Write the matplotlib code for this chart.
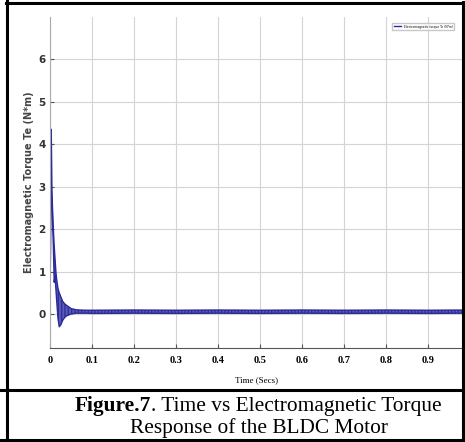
import matplotlib
matplotlib.use('Agg')
import matplotlib.pyplot as plt
from matplotlib.lines import Line2D

# 读图得到的包络数据 (时间, 上包络, 下包络)
t_env = [0.0, 0.0015, 0.003, 0.004, 0.006, 0.008, 0.010, 0.012, 0.014, 0.016,
         0.019, 0.022, 0.026, 0.030, 0.035, 0.040, 0.050, 0.062, 0.083, 0.100,
         0.200, 0.300, 0.400, 0.500, 0.600, 0.700, 0.800, 0.900, 0.985]
te_upper = [0.0, 2.2, 4.35, 3.0, 2.5, 2.0, 1.6, 1.3, 1.0, 0.8,
            0.6, 0.5, 0.4, 0.3, 0.24, 0.2, 0.13, 0.1, 0.09, 0.09,
            0.095, 0.09, 0.095, 0.09, 0.095, 0.09, 0.095, 0.09, 0.095]
te_lower = [0.0, 2.2, 4.35, 2.9, 2.2, 1.6, 0.75, 0.9, 0.6, 0.3,
            -0.1, -0.3, -0.25, -0.15, -0.08, -0.04, 0.0, 0.02, 0.02, 0.015,
            0.02, 0.015, 0.02, 0.015, 0.02, 0.015, 0.02, 0.015, 0.02]

x_ticks = [0, 0.1, 0.2, 0.3, 0.4, 0.5, 0.6, 0.7, 0.8, 0.9]
x_labels = ['0', '0.1', '0.2', '0.3', '0.4', '0.5', '0.6', '0.7', '0.8', '0.9']
y_ticks = [0, 1, 2, 3, 4, 5, 6]

W, H = 465, 442
fig = plt.figure(figsize=(W / 100, H / 100), dpi=100)
ax = fig.add_axes([50 / W, 1 - 348 / H, 413 / W, (348 - 17) / H])

blue = '#2a2a9a'
ax.fill_between(t_env, te_lower, te_upper, facecolor='#4a4ab0', edgecolor=blue,
                hatch='|||||', lw=0, alpha=0.9)
ax.plot(t_env, te_upper, color=blue, lw=1.0, label='Electromagnetic torque Te (N*m)')
ax.plot(t_env, te_lower, color=blue, lw=1.0)

ax.set_xlim(0, 0.983)
ax.set_ylim(-0.8, 7.0)
ax.set_xticks(x_ticks)
ax.set_xticklabels(x_labels, fontfamily='Liberation Serif', fontweight='bold', fontsize=7.5)
ax.set_yticks(y_ticks)
ax.set_yticklabels([str(v) for v in y_ticks], fontweight='bold', fontsize=7.5, color='#333333')
ax.tick_params(direction='in', length=3, color='#555555')
ax.tick_params(axis='x', pad=6)
ax.tick_params(axis='y', pad=3)
ax.grid(True, color='#d4d4d4', lw=0.8)
ax.set_axisbelow(True)
for s in ['top', 'right']:
    ax.spines[s].set_visible(False)
ax.spines['bottom'].set_color('#555555')
ax.spines['left'].set_color('#aaaaaa')

ax.set_xlabel('Time (Secs)', fontfamily='Liberation Serif', fontsize=6.5, labelpad=8)
ax.set_ylabel('Electromagnetic Torque Te (N*m)', fontweight='bold', fontsize=7,
              color='#444444', labelpad=3)
ax.legend(loc='upper left', bbox_to_anchor=(342 / 413, 1 - 6 / 331), fontsize=2.2,
          handlelength=2.5, frameon=True, fancybox=False, edgecolor='#bbbbbb',
          borderpad=0.5, borderaxespad=0)

# 表格边框
def hline(y, x0=0, x1=W, lw=2.2):
    fig.add_artist(Line2D([x0 / W, x1 / W], [1 - y / H, 1 - y / H], color='black', lw=lw))

def vline(x, y0=0, y1=H, lw=2.2):
    fig.add_artist(Line2D([x / W, x / W], [1 - y0 / H, 1 - y1 / H], color='black', lw=lw))

hline(3, 6, 464)
hline(390)
hline(440)
vline(7)
vline(463, 2, 441)

t1 = fig.text(75 / W, 1 - 406 / H, 'Figure.7', fontfamily='Liberation Serif',
              fontweight='bold', fontsize=15.4, va='center', ha='left')
fig.canvas.draw()
bb = t1.get_window_extent()
fig.text(bb.x1 / W, 1 - 406 / H, '. Time vs Electromagnetic Torque',
         fontfamily='Liberation Serif', fontsize=15.4, va='center', ha='left')
fig.text(259 / W, 1 - 428 / H, 'Response of the BLDC Motor', fontfamily='Liberation Serif',
         fontsize=15.4, va='center', ha='center')

fig.savefig('out.png', dpi=100)
